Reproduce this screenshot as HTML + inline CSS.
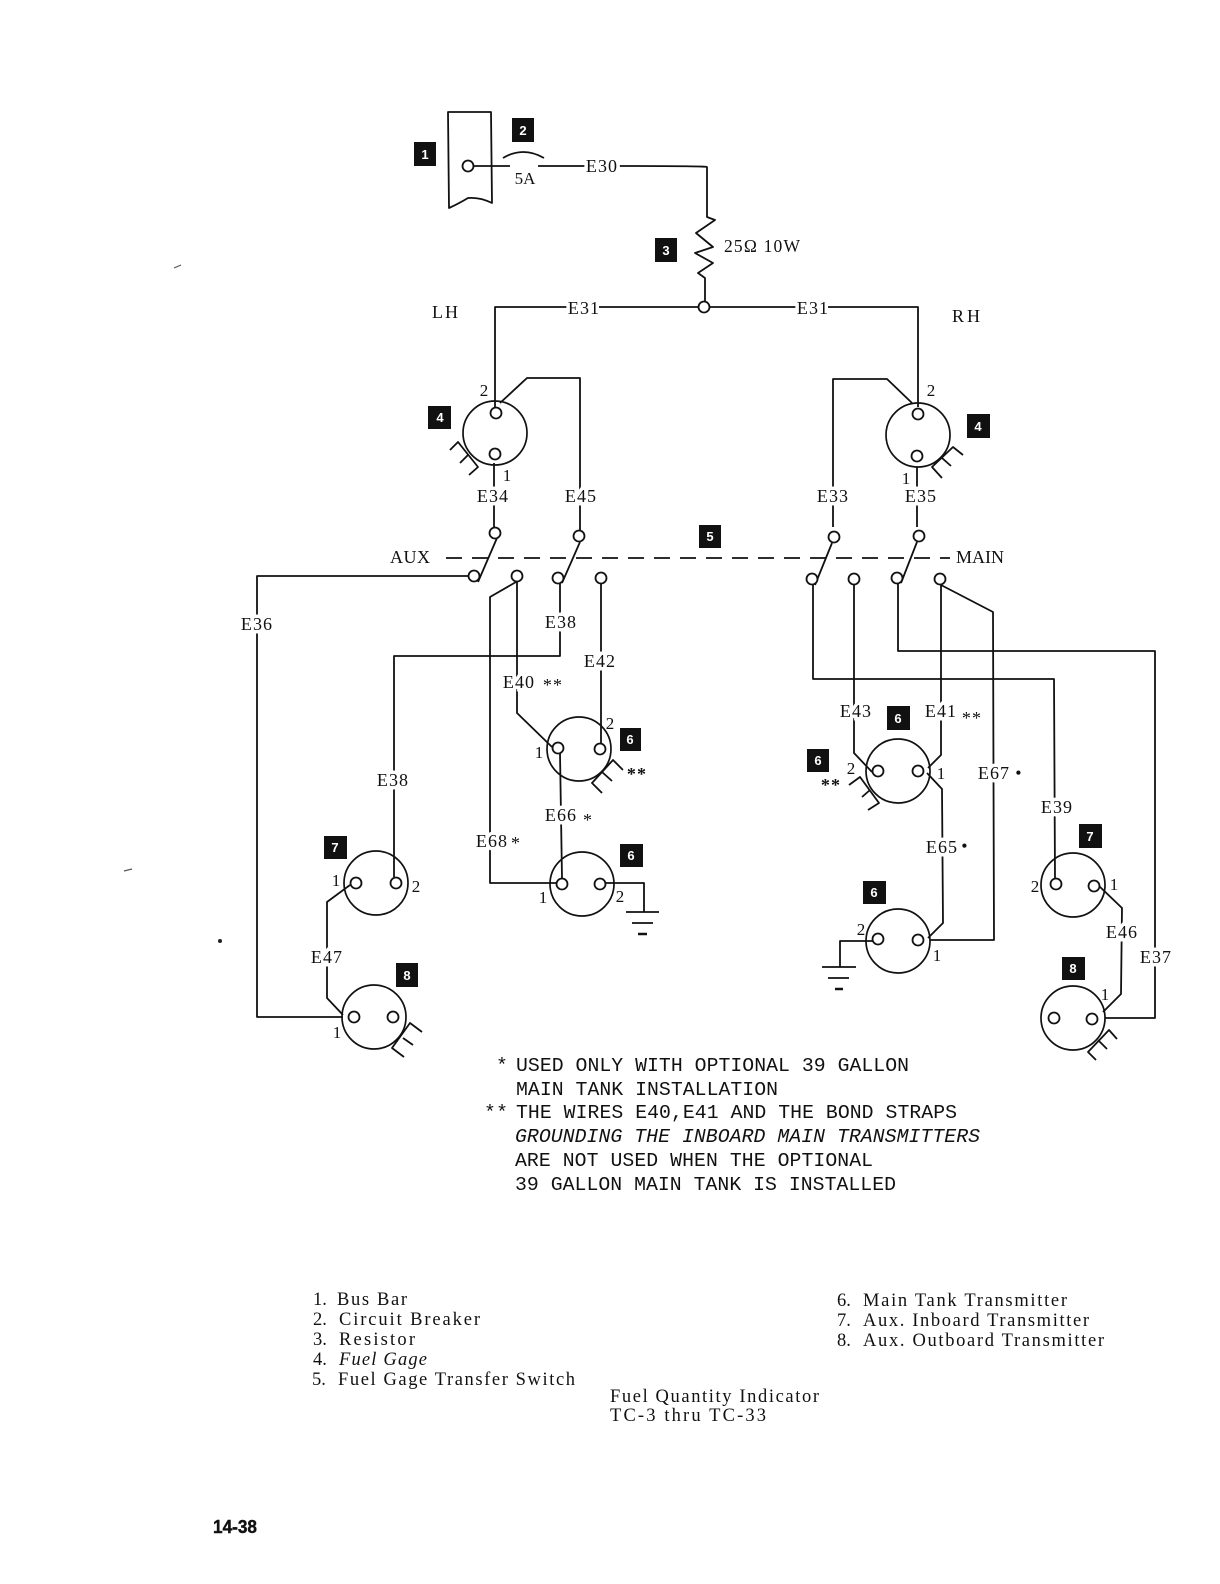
<!DOCTYPE html>
<html><head><meta charset="utf-8"><style>
html,body{margin:0;padding:0;background:#fff}
svg{display:block}
.w{fill:none;stroke:#111;stroke-width:1.8;stroke-linejoin:round}
.c{fill:none;stroke:#111;stroke-width:1.7}
.t{fill:#fff;stroke:#111;stroke-width:1.8;r:5.5px}
.l{font-family:"Liberation Serif",serif;font-size:18px;letter-spacing:1.1px;fill:#111;text-anchor:middle;paint-order:stroke;stroke:#fff;stroke-width:7px}
.n{font-family:"Liberation Serif",serif;font-size:17px;fill:#111;text-anchor:middle}
.b{font-family:"Liberation Sans",sans-serif;font-size:13px;fill:#fff;text-anchor:middle;font-weight:bold}
.m{font-family:"Liberation Mono",monospace;font-size:19.8px;fill:#111}
.s{font-family:"Liberation Serif",serif;font-size:18.5px;fill:#111}
.p{font-family:"Liberation Serif",serif;font-size:18px;fill:#111;text-anchor:middle}
</style></head><body>
<svg width="1220" height="1584" viewBox="0 0 1220 1584" xmlns="http://www.w3.org/2000/svg">
<rect width="1220" height="1584" fill="#fff"/>
<!-- top wires -->
<path class="w" d="M448,112L491,112L492,203Q480,197 468,198Q458,204 449,208Z"/>
<path class="w" d="M473,166H510M503,158Q523,146 544,158M538,166H623M580,166H623Q707,166 707,167V217L715,220L696,233L713,247L695,253L713,263L698,273L705,278V302"/>
<path class="w" d="M709,307H918V407M699,307H495V408"/>
<circle class="t" cx="468" cy="166" r="5"/><circle class="t" cx="704" cy="307" r="5"/>
<!-- left side -->
<path class="w" d="M500,403L527,378H580V530M494,463V527M497,538L478,582M580,542L562,583M560,583V656H394V877"/>
<path class="w" d="M469,576H257V1017H343M517,582V713L552,747M516,582L490,597V883H558M601,584V743M560,753L562,878"/>
<path class="w" d="M350,885L327,902V998L343,1015M605,883H644V912"/>
<path class="w" d="M626,912H659M632,923H653" />
<path d="M638,934H647" stroke="#111" stroke-width="2.5"/>
<!-- right side -->
<path class="w" d="M912,403L887,379H833V527M917,467V527M832,543L815,585M917,542L901,583"/>
<path class="w" d="M813,585V679H1054L1055,878M898,583V651H1155V1018H1105M854,585V753L872,772M941,585V755L928,768M941,585L993,612L994,940H930"/>
<path class="w" d="M927,773L942,789L943,923L928,938M1098,885L1122,908L1121,994L1103,1012M873,941H840V967M822,967H856M828,978H849"/>
<path d="M835,989H843" stroke="#111" stroke-width="2.5"/>
<!-- dashed -->
<path d="M446,558H950" fill="none" stroke="#111" stroke-width="1.8" stroke-dasharray="16 10"/>
<!-- gages -->
<circle class="c" cx="495" cy="433" r="32"/><circle class="c" cx="918" cy="435" r="32"/>
<circle class="c" cx="579" cy="749" r="32"/><circle class="c" cx="582" cy="884" r="32"/>
<circle class="c" cx="376" cy="883" r="32"/><circle class="c" cx="374" cy="1017" r="32"/>
<circle class="c" cx="898" cy="771" r="32"/><circle class="c" cx="898" cy="941" r="32"/>
<circle class="c" cx="1073" cy="885" r="32"/><circle class="c" cx="1073" cy="1018" r="32"/>
<!-- fins -->
<path class="w" d="M450,450L458,442L478,467L469,475M468,455L460,463"/>
<path class="w" d="M963,455L953,447L932,467L942,478M942,458L951,466"/>
<path class="w" d="M623,770L613,760L592,783L602,793M602,772L612,781"/>
<path class="w" d="M422,1032L410,1023L392,1048L404,1057M403,1038L413,1045"/>
<path class="w" d="M849,785L860,777L879,803L868,810M862,797L870,790"/>
<path class="w" d="M1117,1039L1109,1030L1088,1052L1096,1060M1098,1040L1107,1049"/>
<!-- terminals -->
<circle class="t" cx="496" cy="413" r="5"/><circle class="t" cx="495" cy="454" r="5"/>
<circle class="t" cx="918" cy="414" r="5"/><circle class="t" cx="917" cy="456" r="5"/>
<circle class="t" cx="495" cy="533" r="5"/><circle class="t" cx="474" cy="576" r="5"/><circle class="t" cx="517" cy="576" r="5"/>
<circle class="t" cx="579" cy="536" r="5"/><circle class="t" cx="558" cy="578" r="5"/><circle class="t" cx="601" cy="578" r="5"/>
<circle class="t" cx="834" cy="537" r="5"/><circle class="t" cx="812" cy="579" r="5"/><circle class="t" cx="854" cy="579" r="5"/>
<circle class="t" cx="919" cy="536" r="5"/><circle class="t" cx="897" cy="578" r="5"/><circle class="t" cx="940" cy="579" r="5"/>
<circle class="t" cx="558" cy="748" r="5"/><circle class="t" cx="600" cy="749" r="5"/>
<circle class="t" cx="562" cy="884" r="5"/><circle class="t" cx="600" cy="884" r="5"/>
<circle class="t" cx="356" cy="883" r="5"/><circle class="t" cx="396" cy="883" r="5"/>
<circle class="t" cx="354" cy="1017" r="5"/><circle class="t" cx="393" cy="1017" r="5"/>
<circle class="t" cx="878" cy="771" r="5"/><circle class="t" cx="918" cy="771" r="5"/>
<circle class="t" cx="878" cy="939" r="5"/><circle class="t" cx="918" cy="940" r="5"/>
<circle class="t" cx="1056" cy="884" r="5"/><circle class="t" cx="1094" cy="886" r="5"/>
<circle class="t" cx="1054" cy="1018" r="5"/><circle class="t" cx="1092" cy="1019" r="5"/>
<!-- boxes -->
<g fill="#111">
<rect x="414" y="142" width="22" height="24"/><rect x="512" y="118" width="22" height="24"/>
<rect x="655" y="238" width="22" height="24"/><rect x="428" y="406" width="23" height="23"/>
<rect x="967" y="414" width="23" height="24"/><rect x="699" y="525" width="22" height="23"/>
<rect x="620" y="728" width="21" height="23"/><rect x="620" y="844" width="23" height="23"/>
<rect x="887" y="706" width="23" height="24"/><rect x="807" y="749" width="22" height="23"/>
<rect x="863" y="881" width="23" height="23"/><rect x="324" y="836" width="23" height="23"/>
<rect x="396" y="963" width="22" height="24"/><rect x="1079" y="824" width="23" height="24"/>
<rect x="1062" y="957" width="23" height="23"/>
</g>
<text class="b" x="425" y="159">1</text><text class="b" x="523" y="135">2</text>
<text class="b" x="666" y="255">3</text><text class="b" x="440" y="422">4</text>
<text class="b" x="978" y="431">4</text><text class="b" x="710" y="541">5</text>
<text class="b" x="630" y="744">6</text><text class="b" x="631" y="860">6</text>
<text class="b" x="898" y="723">6</text><text class="b" x="818" y="765">6</text>
<text class="b" x="874" y="897">6</text><text class="b" x="335" y="852">7</text>
<text class="b" x="407" y="980">8</text><text class="b" x="1090" y="841">7</text>
<text class="b" x="1073" y="973">8</text>
<!-- wire labels -->
<text class="l" x="602" y="172">E30</text>
<text class="n" x="525" y="184">5A</text>
<text x="724" y="252" font-family="'Liberation Serif',serif" font-size="17.5" fill="#111" textLength="76">25Ω 10W</text>
<text class="l" x="584" y="314">E31</text><text class="l" x="813" y="314">E31</text>
<text class="p" x="445" y="318" textLength="26">LH</text><text class="p" x="966" y="322" textLength="28">RH</text>
<text class="l" x="493" y="502">E34</text><text class="l" x="581" y="502">E45</text>
<text class="l" x="833" y="502">E33</text><text class="l" x="921" y="502">E35</text>
<text class="p" x="410" y="563" textLength="40">AUX</text><text class="p" x="980" y="563" textLength="48">MAIN</text>
<text class="l" x="257" y="630">E36</text><text class="l" x="561" y="628">E38</text>
<text class="l" x="600" y="667">E42</text><text class="l" x="519" y="688">E40</text>
<text class="l" x="553" y="691">**</text>
<text class="l" x="393" y="786">E38</text><text class="l" x="561" y="821">E66</text>
<text class="l" x="588" y="826">*</text><text class="l" x="492" y="847">E68</text><text class="l" x="516" y="849">*</text>
<text class="l" x="327" y="963">E47</text>
<text class="l" x="856" y="717">E43</text><text class="l" x="941" y="717">E41</text><text class="l" x="972" y="724">**</text>
<text class="l" x="994" y="779">E67</text><text class="l" x="1019" y="779">•</text>
<text class="l" x="942" y="853">E65</text><text class="l" x="965" y="852">•</text>
<text class="l" x="1057" y="813">E39</text><text class="l" x="1122" y="938">E46</text><text class="l" x="1156" y="963">E37</text>
<text class="l" x="637" y="780" font-weight="bold">**</text><text class="l" x="831" y="791" font-weight="bold">**</text>
<!-- pin labels -->
<text class="n" x="484" y="396">2</text><text class="n" x="507" y="481">1</text>
<text class="n" x="931" y="396">2</text><text class="n" x="906" y="484">1</text>
<text class="n" x="539" y="758">1</text><text class="n" x="610" y="729">2</text>
<text class="n" x="543" y="903">1</text><text class="n" x="620" y="902">2</text>
<text class="n" x="336" y="886">1</text><text class="n" x="416" y="892">2</text>
<text class="n" x="337" y="1038">1</text>
<text class="n" x="851" y="774">2</text><text class="n" x="941" y="779">1</text>
<text class="n" x="861" y="935">2</text><text class="n" x="937" y="961">1</text>
<text class="n" x="1035" y="892">2</text><text class="n" x="1114" y="890">1</text>
<text class="n" x="1105" y="1000">1</text>
<!-- notes -->
<text class="m" x="496" y="1071">*</text>
<text class="m" x="516" y="1071" textLength="393">USED ONLY WITH OPTIONAL 39 GALLON</text>
<text class="m" x="516" y="1095" textLength="262">MAIN TANK INSTALLATION</text>
<text class="m" x="484" y="1118" textLength="24">**</text>
<text class="m" x="516" y="1118" textLength="441">THE WIRES E40,E41 AND THE BOND STRAPS</text>
<text class="m" x="515" y="1142" textLength="465" font-style="italic">GROUNDING THE INBOARD MAIN TRANSMITTERS</text>
<text class="m" x="515" y="1166" textLength="358">ARE NOT USED WHEN THE OPTIONAL</text>
<text class="m" x="515" y="1190" textLength="381">39 GALLON MAIN TANK IS INSTALLED</text>
<!-- legend -->
<text class="s" x="313" y="1305">1.</text><text class="s" x="337" y="1305" textLength="70">Bus Bar</text>
<text class="s" x="313" y="1325">2.</text><text class="s" x="339" y="1325" textLength="141">Circuit Breaker</text>
<text class="s" x="313" y="1345">3.</text><text class="s" x="339" y="1345" textLength="76">Resistor</text>
<text class="s" x="313" y="1365">4.</text><text class="s" x="339" y="1365" textLength="88" font-style="italic">Fuel Gage</text>
<text class="s" x="312" y="1385">5.</text><text class="s" x="338" y="1385" textLength="237">Fuel Gage Transfer Switch</text>
<text class="s" x="610" y="1402" textLength="209">Fuel Quantity Indicator</text>
<text class="s" x="610" y="1421" textLength="156">TC-3 thru TC-33</text>
<text class="s" x="837" y="1306">6.</text><text class="s" x="863" y="1306" textLength="204">Main Tank Transmitter</text>
<text class="s" x="837" y="1326">7.</text><text class="s" x="863" y="1326" textLength="226">Aux. Inboard Transmitter</text>
<text class="s" x="837" y="1346">8.</text><text class="s" x="863" y="1346" textLength="241">Aux. Outboard Transmitter</text>
<text x="213" y="1533" font-family="'Liberation Sans',sans-serif" font-size="18" font-weight="bold" fill="#111" stroke="#111" stroke-width="0.4" textLength="44" lengthAdjust="spacingAndGlyphs">14-38</text>
<!-- specks -->
<circle cx="220" cy="941" r="2" fill="#222"/>
<path d="M174,268L181,265M124,871L132,869" stroke="#555" stroke-width="1.2"/>
</svg>
</body></html>
